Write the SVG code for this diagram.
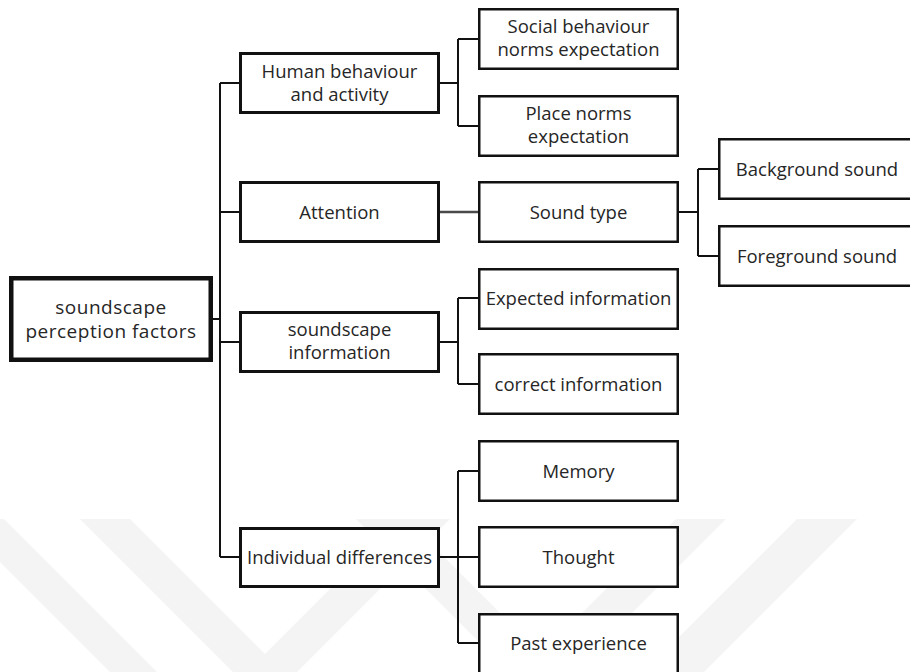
<svg xmlns="http://www.w3.org/2000/svg" width="910" height="672" viewBox="0 0 910 672">
  <style>
    .box { fill: #ffffff; stroke: #111111; }
    .root { stroke-width: 4.5; }
    .lvl1 { stroke-width: 3; }
    .leaf { stroke-width: 2.5; }
    .label { font-family: "Open Sans", "Noto Sans", "Liberation Sans", sans-serif; font-size: 18.5px; fill: #262626; text-anchor: middle; }
    .big { font-size: 19px; letter-spacing: 0.5px; }
    .wire { fill: none; stroke: #111111; stroke-width: 2; }
    .wire.soft { stroke: #4a4a4a; stroke-width: 2.6; }
    .mark { fill: #f4f4f4; }
  </style>

  <rect width="910" height="672" fill="#ffffff"/>

  <!-- faint background emblem -->
  <g id="emblem">
    <polygon class="mark" points="-43,519 4,519 157,672 110,672"/>
    <polygon class="mark" points="80,519 130,519 265,654 400,519 450,519 297,672 233,672"/>
    <polygon class="mark" points="356,519 406,519 541,654 676,519 726,519 573,672 509,672"/>
    <polygon class="mark" points="797,519 857,519 704,672 644,672"/>
  </g>

  <!-- connectors -->
  <g id="connectors">
    <path class="wire" d="M213,319 H220 M220,83 V557 M220,83 H239 M220,212 H239 M220,342 H239 M220,557 H239"/>
    <path class="wire" d="M440,83 H458 M458,39 V126 M458,39 H478 M458,126 H478"/>
    <path class="wire soft" d="M440,212 H478"/>
    <path class="wire" d="M679,212 H698 M698,169 V256 M698,169 H718 M698,256 H718"/>
    <path class="wire" d="M440,342 H458 M458,298 V384 M458,298 H478 M458,384 H478"/>
    <path class="wire" d="M440,557 H478 M458,471 V643 M458,471 H478 M458,643 H478"/>
  </g>

  <!-- root -->
  <g id="n-root">
    <rect class="box root" x="11.25" y="278.25" width="199.5" height="81.5"/>
    <text class="label big" x="111" y="314"><tspan x="111">soundscape</tspan><tspan x="111" dy="24">perception factors</tspan></text>
  </g>

  <!-- first level -->
  <g id="n-human">
    <rect class="box lvl1" x="240.5" y="53.5" width="198" height="59"/>
    <text class="label" x="339.5" y="77.5"><tspan x="339.5">Human behaviour</tspan><tspan x="339.5" dy="23">and activity</tspan></text>
  </g>
  <g id="n-attention">
    <rect class="box lvl1" x="240.5" y="182.5" width="198" height="59"/>
    <text class="label" x="339.5" y="218.5">Attention</text>
  </g>
  <g id="n-information">
    <rect class="box lvl1" x="240.5" y="312.5" width="198" height="59"/>
    <text class="label" x="339.5" y="336"><tspan x="339.5">soundscape</tspan><tspan x="339.5" dy="23">information</tspan></text>
  </g>
  <g id="n-individual">
    <rect class="box lvl1" x="240.5" y="528.5" width="198" height="58"/>
    <text class="label" x="339.5" y="563.5">Individual differences</text>
  </g>

  <!-- second level -->
  <g id="n-social">
    <rect class="box leaf" x="479.25" y="9.25" width="198.5" height="59.5"/>
    <text class="label" x="578.5" y="33"><tspan x="578.5">Social behaviour</tspan><tspan x="578.5" dy="23">norms expectation</tspan></text>
  </g>
  <g id="n-place">
    <rect class="box leaf" x="479.25" y="96.25" width="198.5" height="59.5"/>
    <text class="label" x="578.5" y="120"><tspan x="578.5">Place norms</tspan><tspan x="578.5" dy="23">expectation</tspan></text>
  </g>
  <g id="n-soundtype">
    <rect class="box leaf" x="479.25" y="182.25" width="198.5" height="59.5"/>
    <text class="label" x="578.5" y="218.5">Sound type</text>
  </g>
  <g id="n-expected">
    <rect class="box leaf" x="479.25" y="269.25" width="198.5" height="59.5"/>
    <text class="label" x="578.5" y="304.5">Expected information</text>
  </g>
  <g id="n-correct">
    <rect class="box leaf" x="479.25" y="354.25" width="198.5" height="59.5"/>
    <text class="label" x="578.5" y="390.5">correct information</text>
  </g>
  <g id="n-memory">
    <rect class="box leaf" x="479.25" y="441.25" width="198.5" height="59.5"/>
    <text class="label" x="578.5" y="477.5">Memory</text>
  </g>
  <g id="n-thought">
    <rect class="box leaf" x="479.25" y="527.25" width="198.5" height="59.5"/>
    <text class="label" x="578.5" y="563.5">Thought</text>
  </g>
  <g id="n-past">
    <rect class="box leaf" x="479.25" y="614.25" width="198.5" height="59.5"/>
    <text class="label" x="578.5" y="649.5">Past experience</text>
  </g>

  <!-- third level -->
  <g id="n-background">
    <rect class="box leaf" x="719.25" y="139.25" width="200" height="59.5"/>
    <text class="label" x="817" y="175.5">Background sound</text>
  </g>
  <g id="n-foreground">
    <rect class="box leaf" x="719.25" y="226.25" width="200" height="59.5"/>
    <text class="label" x="817" y="262.5">Foreground sound</text>
  </g>
</svg>
